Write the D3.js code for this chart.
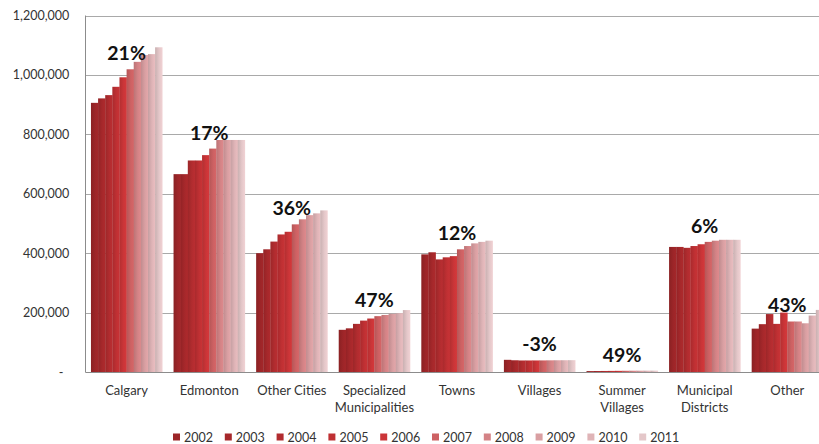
<!DOCTYPE html>
<html>
<head>
<meta charset="utf-8">
<script src="https://cdn.jsdelivr.net/npm/d3@7"></script>
<style>
  html, body { margin: 0; padding: 0; background: #fff; }
  svg { display: block; }
  text { font-family: Lato, "Open Sans", sans-serif; fill: #333; }
</style>
</head>
<body>
<svg id="chart" width="819" height="444"></svg>
<script>
// Population by municipality type, 2002–2011
const categories = ["Calgary", "Edmonton", "Other Cities", "Specialized Municipalities", "Towns",
  "Villages", "Summer Villages", "Municipal Districts", "Other"];
const categoryLines = [["Calgary"], ["Edmonton"], ["Other Cities"], ["Specialized", "Municipalities"],
  ["Towns"], ["Villages"], ["Summer", "Villages"], ["Municipal", "Districts"], ["Other"]];
const years = ["2002", "2003", "2004", "2005", "2006", "2007", "2008", "2009", "2010", "2011"];

const calgary        = [906000, 921000, 932000, 960000, 992000, 1019000, 1044000, 1067000, 1070000, 1093000];
const edmonton       = [666000, 666000, 712000, 712000, 730000, 752000, 781000, 781000, 781000, 781000];
const otherCities    = [400000, 413000, 439000, 463000, 472000, 497000, 514000, 528000, 534000, 544000];
const specialized    = [142000, 147000, 162000, 173000, 180000, 188000, 192000, 196000, 198000, 208500];
const towns          = [396000, 403000, 379000, 386000, 390000, 413000, 424000, 433000, 438000, 442000];
const villages       = [41000, 39500, 38800, 38800, 38900, 39000, 39300, 39500, 39600, 39800];
const summerVillages = [3100, 3300, 3500, 3700, 3900, 4100, 4300, 4400, 4500, 4620];
const municipal      = [421000, 421000, 418000, 424000, 430000, 438000, 442000, 445000, 445000, 445000];
const other          = [146000, 161000, 195000, 162000, 200000, 170000, 170000, 164000, 190000, 209000];

const yTicks = [0, 200000, 400000, 600000, 800000, 1000000, 1200000];
const seriesColors = ["#9c2528", "#a6282b", "#b12c2f", "#bf3033", "#cb3538", "#cd6163",
  "#d48386", "#d99fa2", "#dfb4b7", "#e4c7c9"];

const valuesByCategory = [calgary, edmonton, otherCities, specialized, towns,
  villages, summerVillages, municipal, other];

const svg = d3.select("#chart");
const plot = { left: 85.3, right: 828.6, top: 15.5, bottom: 372 };

const x0 = d3.scaleBand().domain(categories).range([plot.left, plot.right])
  .paddingInner(0.137).paddingOuter(0.0685);
const x1 = d3.scaleBand().domain(years).range([0, x0.bandwidth()]);
const y = d3.scaleLinear().domain([0, 1200000]).range([plot.bottom, plot.top]);
const color = d3.scaleOrdinal().domain(years).range(seriesColors);

// Horizontal shading on each bar: darker at the left edge
const defs = svg.append("defs");
years.forEach((yr, i) => {
  const c = d3.color(seriesColors[i]);
  const g = defs.append("linearGradient").attr("id", "grad" + yr)
    .attr("x1", "0%").attr("x2", "100%").attr("y1", "0%").attr("y2", "0%");
  g.append("stop").attr("offset", "0%").attr("stop-color", c.darker(0.35));
  g.append("stop").attr("offset", "55%").attr("stop-color", c);
  g.append("stop").attr("offset", "100%").attr("stop-color", c.brighter(0.15));
});

// Gridlines
const yAxis = d3.axisLeft(y).tickValues(yTicks).tickSize(0)
  .tickFormat(d => d === 0 ? "-" : d3.format(",")(d));

svg.append("g").attr("class", "grid")
  .selectAll("line").data(yTicks.filter(d => d > 0)).join("line")
  .attr("x1", plot.left).attr("x2", 819)
  .attr("y1", d => Math.round(y(d)) + 0.5).attr("y2", d => Math.round(y(d)) + 0.5)
  .attr("stroke", "#a9a9a9").attr("stroke-width", 1);

const yg = svg.append("g").attr("transform", `translate(${plot.left},0)`).call(yAxis);
yg.select(".domain").remove();
yg.selectAll("text")
  .attr("x", d => d === 0 ? -22 : -16)
  .style("font-size", "12.5px").style("fill", "#333");

// Vertical axis line
svg.append("line")
  .attr("x1", Math.round(plot.left) + 0.5).attr("x2", Math.round(plot.left) + 0.5)
  .attr("y1", plot.top).attr("y2", plot.bottom)
  .attr("stroke", "#8c8c8c");

// Bars
const groups = svg.append("g").selectAll("g").data(categories).join("g")
  .attr("transform", d => `translate(${x0(d)},0)`);

groups.selectAll("rect")
  .data((d, i) => valuesByCategory[i].map((v, j) => ({ year: years[j], value: v })))
  .join("rect")
  .attr("x", d => x1(d.year))
  .attr("width", x1.bandwidth() + 0.3)
  .attr("y", d => y(d.value))
  .attr("height", d => y(0) - y(d.value))
  .attr("fill", d => `url(#grad${d.year})`);

// Category axis
svg.append("line")
  .attr("x1", plot.left).attr("x2", 819)
  .attr("y1", Math.round(plot.bottom) + 0.5).attr("y2", Math.round(plot.bottom) + 0.5)
  .attr("stroke", "#8c8c8c");

const xLabels = svg.append("g").selectAll("text").data(categories).join("text")
  .attr("text-anchor", "middle")
  .attr("x", d => x0(d) + x0.bandwidth() / 2)
  .attr("y", 395)
  .style("font-size", "13px");
xLabels.selectAll("tspan").data((d, i) => categoryLines[i]).join("tspan")
  .attr("x", function () { return d3.select(this.parentNode).attr("x"); })
  .attr("dy", (d, i) => i === 0 ? 0 : 16.5)
  .text(d => d);

// Growth 2002 → 2011, placed above the 2007 bar of each group
svg.append("g").selectAll("text").data(categories).join("text")
  .attr("text-anchor", "middle")
  .attr("x", d => x0(d) + x0.bandwidth() / 2)
  .attr("y", (d, i) => y(valuesByCategory[i][5]) - 9)
  .style("font-size", "19.5px").style("font-weight", "bold").style("fill", "#111")
  .text((d, i) => {
    const v = valuesByCategory[i];
    return Math.round((v[v.length - 1] / v[0] - 1) * 100) + "%";
  });

// Legend
const legendStep = 51.8;
const legendX = 173;
const legend = svg.append("g").selectAll("g").data(years).join("g")
  .attr("transform", (d, i) => `translate(${legendX + i * legendStep},437)`);
legend.append("rect").attr("x", 0).attr("y", -3.5).attr("width", 7).attr("height", 7)
  .attr("fill", d => color(d));
legend.append("text").attr("x", 11).attr("y", 4.5)
  .style("font-size", "12.5px").text(d => d);
</script>
</body>
</html>
